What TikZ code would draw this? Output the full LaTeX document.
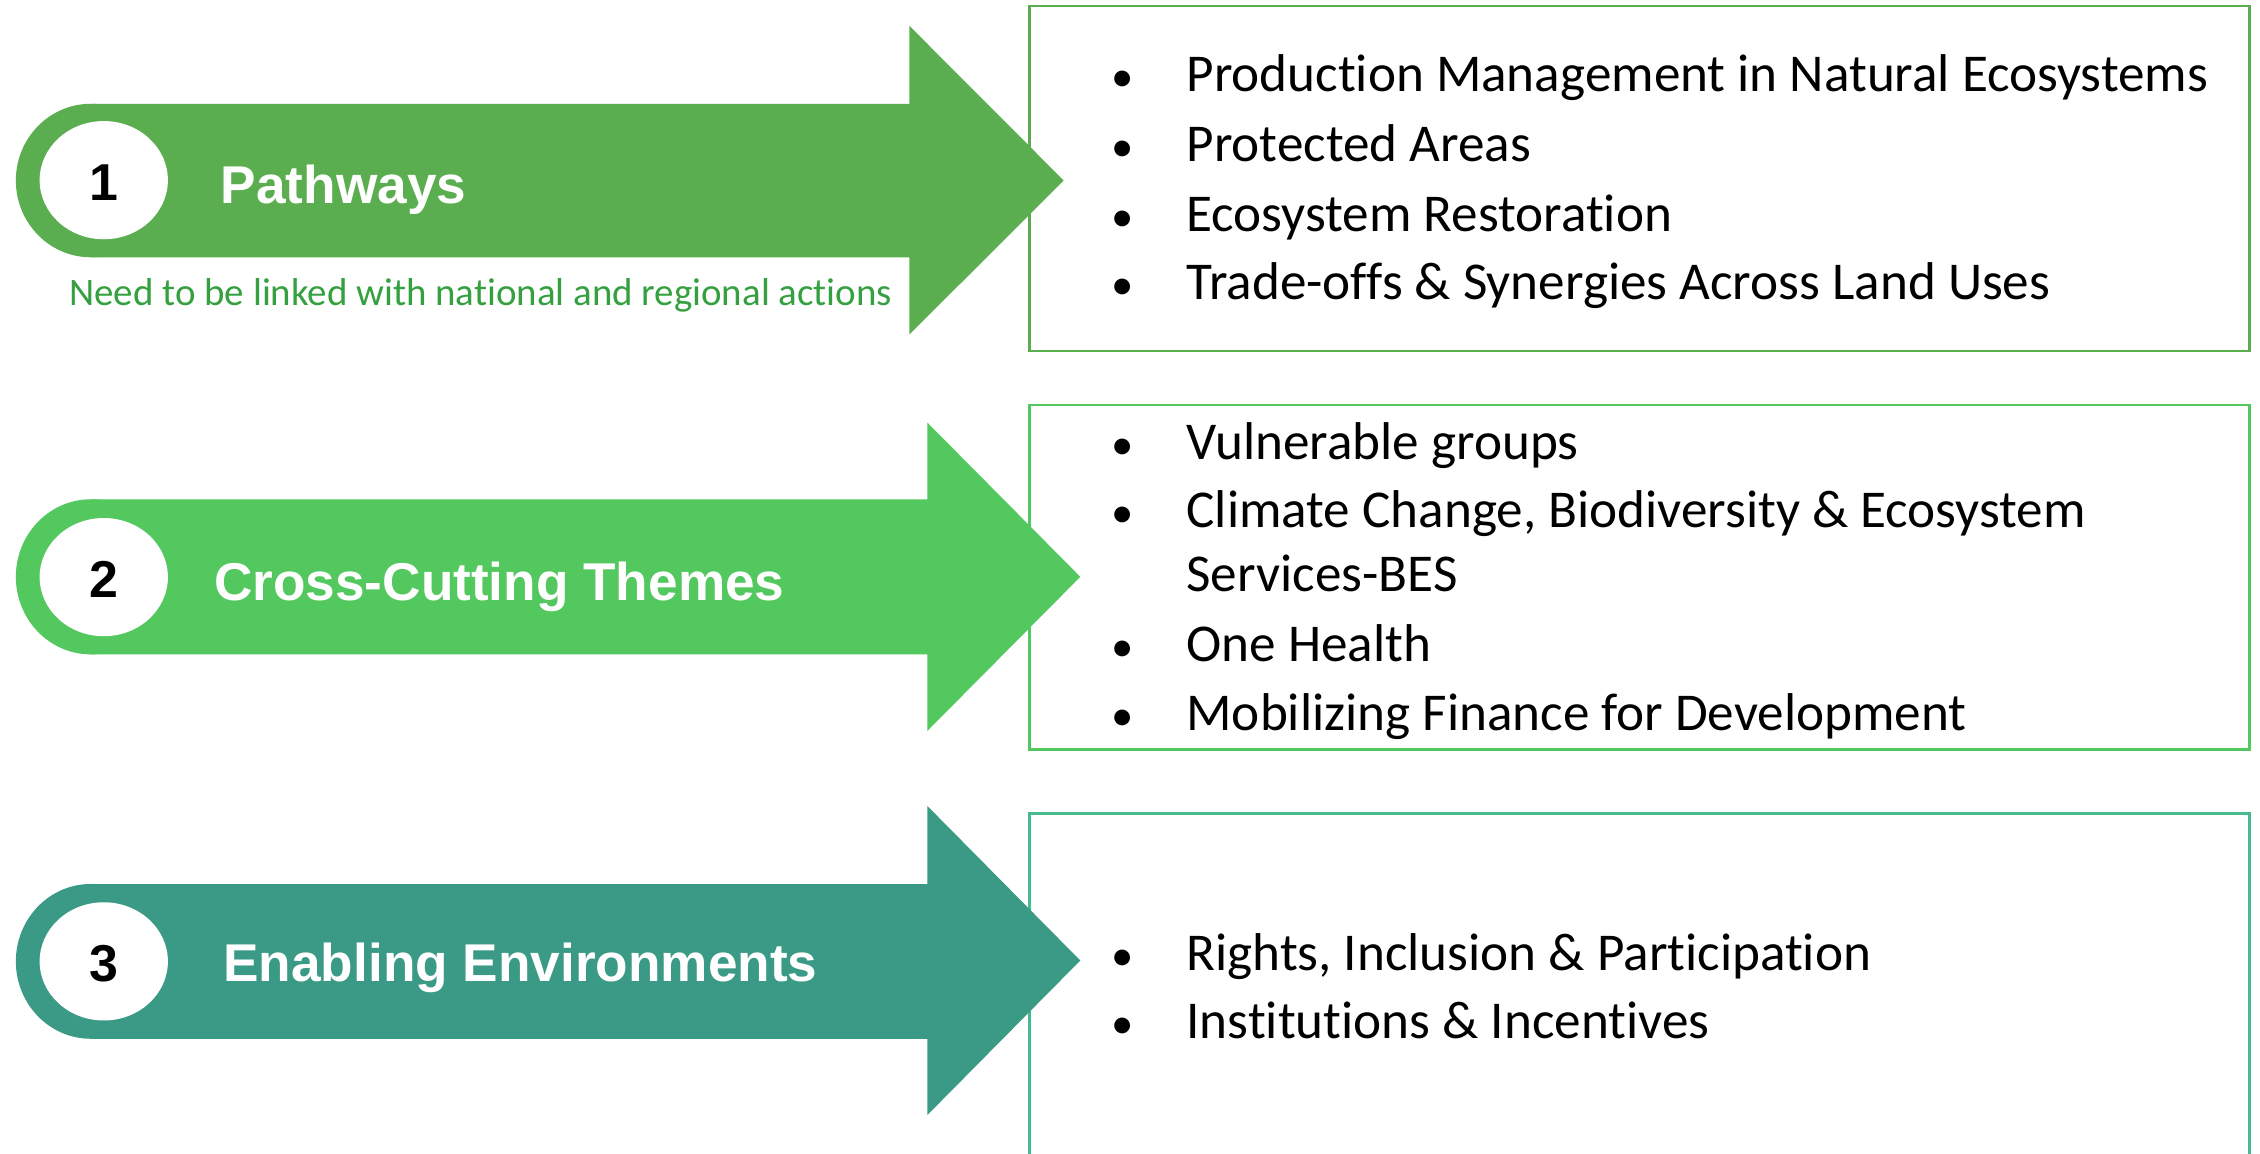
\documentclass[tikz,border=0pt]{standalone}
\usepackage{fontspec}
\setmainfont{Carlito}[Ligatures={NoCommon}]
\newfontfamily\headfont{Liberation Sans}
\definecolor{cA}{HTML}{5BAE50}
\definecolor{cB}{HTML}{52C85E}
\definecolor{cC}{HTML}{3A9A86}
\definecolor{cCb}{HTML}{45BA8C}
\definecolor{subt}{HTML}{35A040}
\begin{document}
\begin{tikzpicture}[x=1pt,y=-1pt,
  lbl/.style={anchor=base west, inner sep=0, text=white, font=\headfont\bfseries\fontsize{36.9}{40}\selectfont},
  num/.style={anchor=base, inner sep=0, font=\headfont\bfseries\fontsize{36}{40}\selectfont},
  itm/.style={anchor=base west, inner sep=0, font=\fontsize{36.9}{40}\selectfont},
  bul/.style={anchor=base, inner sep=0, font=\fontsize{31}{40}\selectfont},
  panel/.style={line width=2pt, fill=white}
]
\clip (0,0) rectangle (1568,800);
\fill[white] (0,0) rectangle (1568,800);

% panels
\draw[panel, draw=cA] (714.4,4.2) rectangle (1560.8,243.5);
\draw[panel, draw=cB] (714.4,281) rectangle (1560.8,519.9);
\draw[panel, draw=cCb] (714.4,564.3) rectangle (1560.8,830);

% arrow 1
\fill[cA] (63,125.25) ellipse [x radius=52, y radius=53.25];
\fill[cA] (63,72) -- (631,72) -- (631,18) -- (738,125.25) -- (631,232) -- (631,178.5) -- (63,178.5) -- cycle;
\fill[white] (72,125) ellipse [x radius=44.5, y radius=41];
% arrow 2
\fill[cB] (63,400.2) ellipse [x radius=52, y radius=53.8];
\fill[cB] (63,346.4) -- (643.4,346.4) -- (643.4,293.2) -- (749.5,400.2) -- (643.4,507.1) -- (643.4,454) -- (63,454) -- cycle;
\fill[white] (72,400.4) ellipse [x radius=44.5, y radius=41];
% arrow 3
\fill[cC] (63,667) ellipse [x radius=52, y radius=53.7];
\fill[cC] (63,613.4) -- (643.4,613.4) -- (643.4,559.2) -- (749.5,666.4) -- (643.4,773.6) -- (643.4,720.7) -- (63,720.7) -- cycle;
\fill[white] (72,667) ellipse [x radius=44.5, y radius=41];

% labels
\node[num] (n1) at (72,138.8) {1};
\node[lbl] (l1) at (153,141.5) {Pathways};
\node[anchor=base west, inner sep=0, text=subt, font=\fontsize{27}{30}\selectfont] (sub) at (48,212.3) {Need to be linked with national and regional actions};
\node[num] (n2) at (72,414.4) {2};
\node[lbl] (l2) at (148.4,416.3) {Cross-Cutting Themes};
\node[num] (n3) at (72,681.3) {3};
\node[lbl] (l3) at (154.8,681.3) {Enabling Environments};

% panel 1 items
\node[bul] (b11) at (779,63.6) {•};
\node[itm] (t11) at (823,63.6) {Production Management in Natural Ecosystems};
\node[bul] (b12) at (779,112.2) {•};
\node[itm] (t12) at (823,112.2) {Protected Areas};
\node[bul] (b13) at (779,160.3) {•};
\node[itm] (t13) at (823,160.3) {Ecosystem Restoration};
\node[bul] (b14) at (779,208.1) {•};
\node[itm] (t14) at (823,208.1) {Trade-offs \& Synergies Across Land Uses};

% panel 2 items
\node[bul] (b21) at (779,318.7) {•};
\node[itm] (t21) at (823,318.7) {Vulnerable groups};
\node[bul] (b22) at (779,366.1) {•};
\node[itm] (t22) at (823,366.1) {Climate Change, Biodiversity \& Ecosystem};
\node[itm] (t22b) at (823,410.5) {Services-BES};
\node[bul] (b23) at (779,459.1) {•};
\node[itm] (t23) at (823,459.1) {One Health};
\node[bul] (b24) at (779,507) {•};
\node[itm] (t24) at (823,507) {Mobilizing Finance for Development};

% panel 3 items
\node[bul] (b31) at (779,673) {•};
\node[itm] (t31) at (823,673) {Rights, Inclusion \& Participation};
\node[bul] (b32) at (779,720.4) {•};
\node[itm] (t32) at (823,720.4) {Institutions \& Incentives};
\end{tikzpicture}
\end{document}
